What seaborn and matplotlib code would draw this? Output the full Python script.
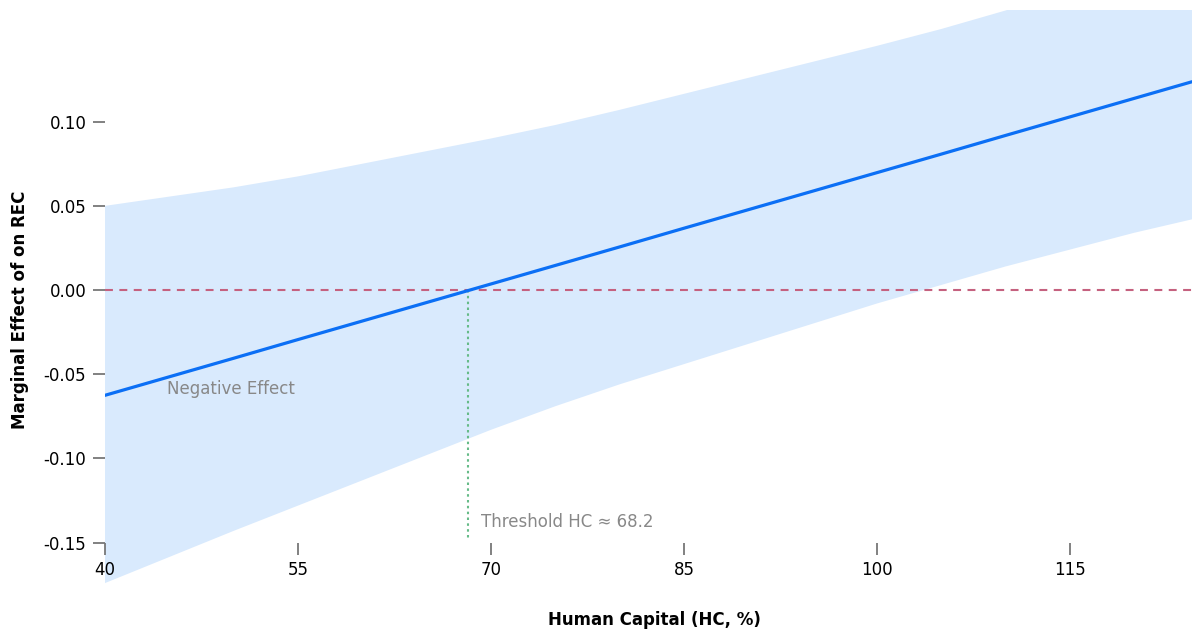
import numpy as np
import pandas as pd
import matplotlib
matplotlib.use("Agg")
import matplotlib.pyplot as plt
import seaborn as sns

# values
hc = [40, 45, 50, 55, 60, 65, 70, 75, 80, 85, 90, 95, 100, 105, 110, 115, 120, 124.5]
marginal_effect = [-0.0625, -0.0515, -0.0405, -0.0294, -0.0184, -0.0074, 0.0036, 0.0146,
                   0.0256, 0.0367, 0.0477, 0.0587, 0.0697, 0.0807, 0.0918, 0.1028,
                   0.1138, 0.1237]
ci_upper = [0.050, 0.0555, 0.061, 0.0675, 0.075, 0.0825, 0.090, 0.098, 0.107, 0.1165,
            0.126, 0.1355, 0.145, 0.155, 0.166, 0.178, 0.190, 0.203]
ci_lower = [-0.174, -0.1585, -0.143, -0.128, -0.113, -0.098, -0.083, -0.069, -0.056,
            -0.044, -0.032, -0.020, -0.008, 0.003, 0.014, 0.024, 0.034, 0.042]
threshold = 68.2
x_ticks = [40, 55, 70, 85, 100, 115]
y_ticks = [-0.15, -0.10, -0.05, 0.00, 0.05, 0.10]

df = pd.DataFrame({"hc": hc, "me": marginal_effect, "lo": ci_lower, "hi": ci_upper})

sns.set_style("white")
plt.rcParams["font.family"] = ["DejaVu Sans"]

fig = plt.figure(figsize=(11.92, 6.33), dpi=100)
ax = fig.add_axes([0.0881, 0.0363, 0.9119, 0.9479])
ax.set_axisbelow(False)

# confidence band
ax.fill_between(df["hc"], df["lo"], df["hi"], color="#d9eafd", linewidth=0, zorder=1)

# zero reference line
ax.axhline(0, color="#c5617f", lw=1.5, dashes=(3.8, 3.1), zorder=2)

# threshold marker
ax.plot([threshold, threshold], [0, -0.148], color="#66bb88", lw=1.5,
        linestyle=(0, (1.2, 1.6)), zorder=2)

# marginal effect line
sns.lineplot(data=df, x="hc", y="me", ax=ax, color="#0b6ff5", lw=2.3, zorder=3)

ax.text(44.8, -0.0588, "Negative Effect", color="#888888", fontsize=12,
        ha="left", va="center")
ax.text(69.2, -0.1378, "Threshold HC \u2248 68.2", color="#888888", fontsize=12,
        ha="left", va="center")

ax.set_xlim(40, 124.5)
ax.set_ylim(-0.19, 0.1663)
ax.set_xticks(x_ticks)
ax.set_yticks(y_ticks)
ax.set_yticklabels([f"{v:.2f}" for v in y_ticks])

for s in ["top", "right", "left", "bottom"]:
    ax.spines[s].set_visible(False)
ax.spines["bottom"].set_position(("data", -0.15))

ax.tick_params(axis="both", which="major", direction="out", length=8.5, width=1.3,
               color="#777777", labelsize=12, labelcolor="black", pad=5,
               bottom=True, left=True)

ax.set_xlabel("Human Capital (HC, %)", fontsize=12, fontweight="bold", color="black")
ax.set_ylabel("Marginal Effect of on REC", fontsize=12, fontweight="bold", color="black")
ax.xaxis.set_label_coords(0.5054, -0.0167)
ax.xaxis.label.set_va("center")
ax.yaxis.set_label_coords(-0.078, 0.5)
ax.yaxis.label.set_va("center")

fig.savefig("out.png", dpi=100)
